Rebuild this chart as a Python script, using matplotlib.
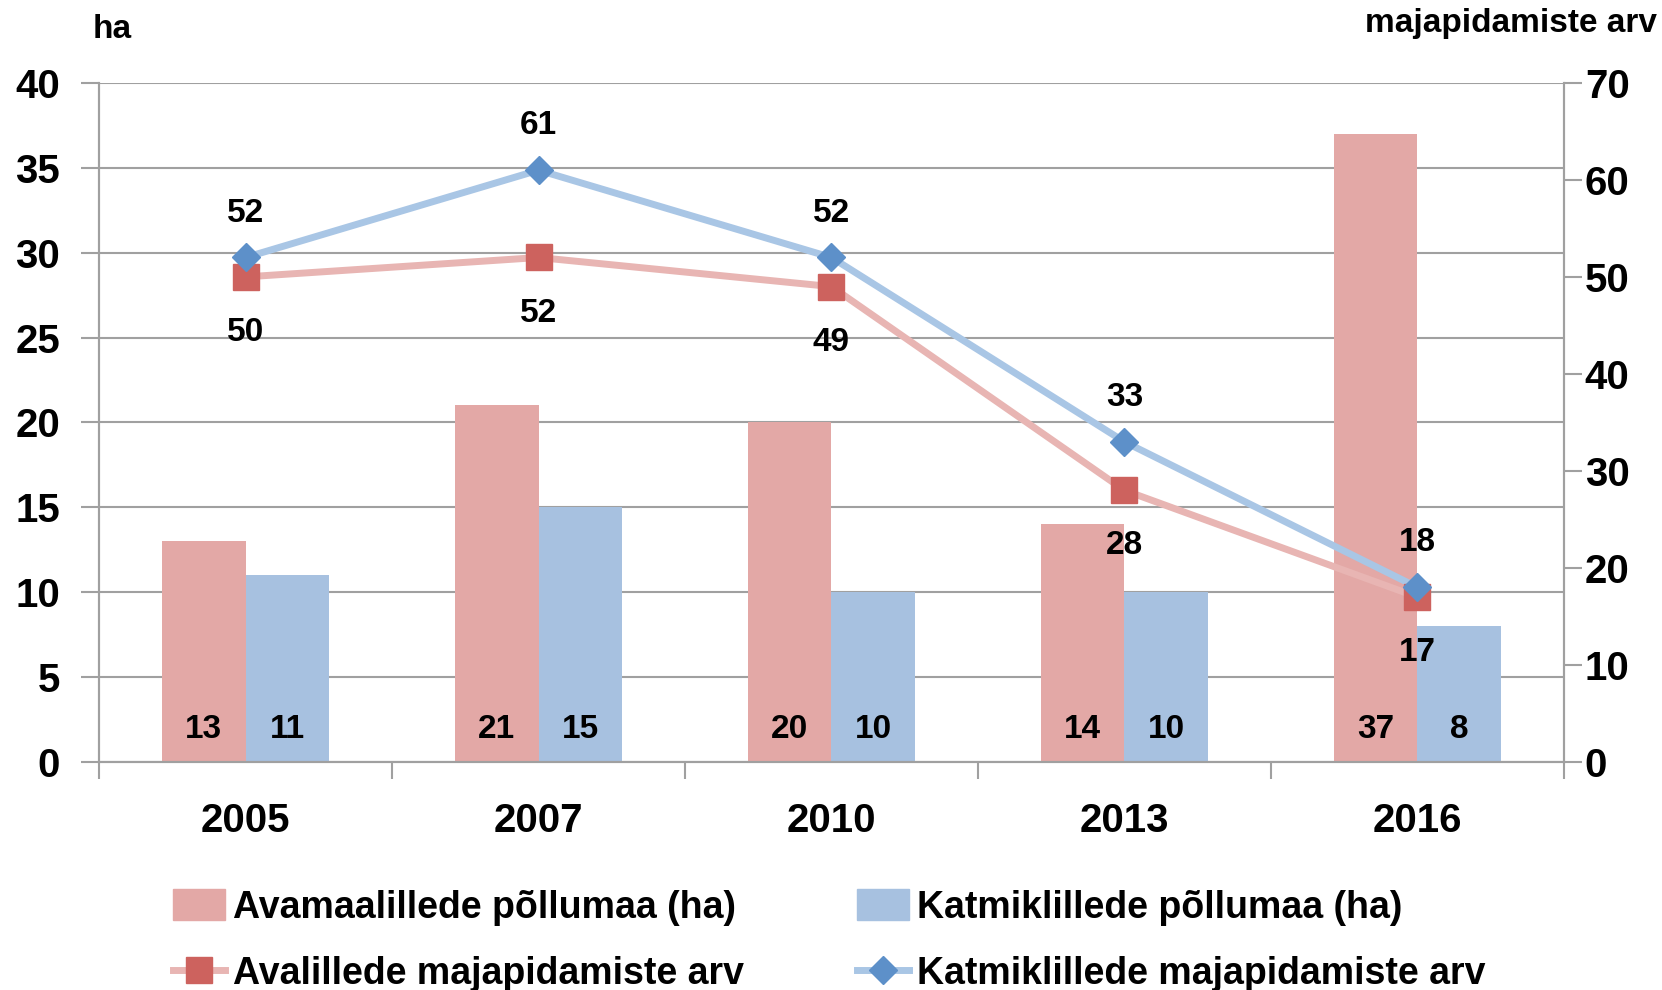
import numpy as np
import matplotlib.pyplot as plt
from matplotlib.lines import Line2D
from matplotlib.patches import Patch

plt.rcParams['font.family'] = ['Liberation Sans', 'DejaVu Sans']
plt.rcParams['font.weight'] = 'bold'

# data
years = ['2005', '2007', '2010', '2013', '2016']
ava_ha = [13, 21, 20, 14, 37]       # Avamaalillede põllumaa (ha)
katm_ha = [11, 15, 10, 10, 8]       # Katmiklillede põllumaa (ha)
ava_hh = [50, 52, 49, 28, 17]       # Avalillede majapidamiste arv
katm_hh = [52, 61, 52, 33, 18]      # Katmiklillede majapidamiste arv

pink = '#E3A8A6'
blue = '#A7C1E0'
red_line = '#E8B5B3'
red_mark = '#CD625E'
blue_line = '#A9C6E5'
blue_mark = '#5D90C9'
grid_c = '#A0A0A0'

fig = plt.figure(figsize=(16.62, 9.90), dpi=100)
ax = fig.add_axes([0.0596, 0.2303, 0.8814, 0.686])
ax2 = ax.twinx()

x = np.arange(len(years))
w = 0.285
ax.bar(x - w/2, ava_ha, w, color=pink, zorder=2)
ax.bar(x + w/2, katm_ha, w, color=blue, zorder=2)

for i in range(len(years)):
    ax.text(x[i] - w/2, 1.9, str(ava_ha[i]), ha='center', va='center', fontsize=24, fontweight='bold', zorder=5)
    ax.text(x[i] + w/2, 1.9, str(katm_ha[i]), ha='center', va='center', fontsize=24, fontweight='bold', zorder=5)

ax.set_xlim(-0.5, len(years) - 0.5)
ax.set_ylim(0, 40)
ax.set_yticks(range(0, 41, 5))
ax.yaxis.grid(True, color=grid_c, linewidth=1.5, zorder=0)
ax.set_axisbelow(True)
ax.set_xticks(np.arange(-0.5, len(years), 1.0))
ax.set_xticklabels([])
ax.set_xticks(x, minor=True)
ax.set_xticklabels(years, minor=True)
ax.tick_params(axis='x', which='major', length=12, width=1.5, color=grid_c, direction='out')
ax.tick_params(axis='x', which='minor', length=0, pad=29, labelsize=29)
ax.tick_params(axis='y', length=13, width=1.5, color=grid_c, labelsize=29, pad=15)

for sp in ['top']:
    ax.spines[sp].set_visible(False)
    ax2.spines[sp].set_visible(False)
for a in (ax, ax2):
    for sp in ['left', 'right', 'bottom']:
        a.spines[sp].set_color(grid_c)
        a.spines[sp].set_linewidth(1.5)

ax2.plot(x, ava_hh, color=red_line, linewidth=5, solid_capstyle='round', zorder=3)
ax2.plot(x, ava_hh, linestyle='none', marker='s', markersize=19, color=red_mark, zorder=4)
ax2.plot(x, katm_hh, color=blue_line, linewidth=5, solid_capstyle='round', zorder=3)
ax2.plot(x, katm_hh, linestyle='none', marker='D', markersize=14, color=blue_mark, zorder=4)

ax2.set_ylim(0, 70)
ax2.set_yticks(range(0, 71, 10))
ax2.tick_params(axis='y', length=13, width=1.5, color=grid_c, labelsize=29, pad=2)

for i in range(len(years)):
    ax2.annotate(str(katm_hh[i]), (x[i], katm_hh[i]), xytext=(0, 32), textcoords='offset points',
                 ha='center', va='center', fontsize=24, fontweight='bold', zorder=6)
    ax2.annotate(str(ava_hh[i]), (x[i], ava_hh[i]), xytext=(0, -40), textcoords='offset points',
                 ha='center', va='center', fontsize=24, fontweight='bold', zorder=6)

fig.text(0.056, 0.970, 'ha', ha='left', va='center', fontsize=24, fontweight='bold')
fig.text(0.997, 0.976, 'majapidamiste arv', ha='right', va='center', fontsize=24, fontweight='bold')

handles = [Patch(color=pink), Patch(color=blue),
           Line2D([], [], color=red_line, linewidth=5, marker='s', markersize=19, markerfacecolor=red_mark, markeredgecolor=red_mark),
           Line2D([], [], color=blue_line, linewidth=5, marker='D', markersize=14, markerfacecolor=blue_mark, markeredgecolor=blue_mark)]
labels = ['Avamaalillede põllumaa (ha)', 'Katmiklillede põllumaa (ha)',
          'Avalillede majapidamiste arv', 'Katmiklillede majapidamiste arv']
# order so rows are: bars on row 1, lines on row 2
fig.legend([handles[0], handles[2], handles[1], handles[3]],
           [labels[0], labels[2], labels[1], labels[3]],
           ncol=2, loc='upper left', bbox_to_anchor=(0.1041, 0.102), frameon=False,
           fontsize=27, handlelength=1.39, handleheight=0.9, columnspacing=3.0,
           labelspacing=0.8, handletextpad=0.22, borderpad=0, borderaxespad=0)

plt.savefig('out.png', dpi=100)
